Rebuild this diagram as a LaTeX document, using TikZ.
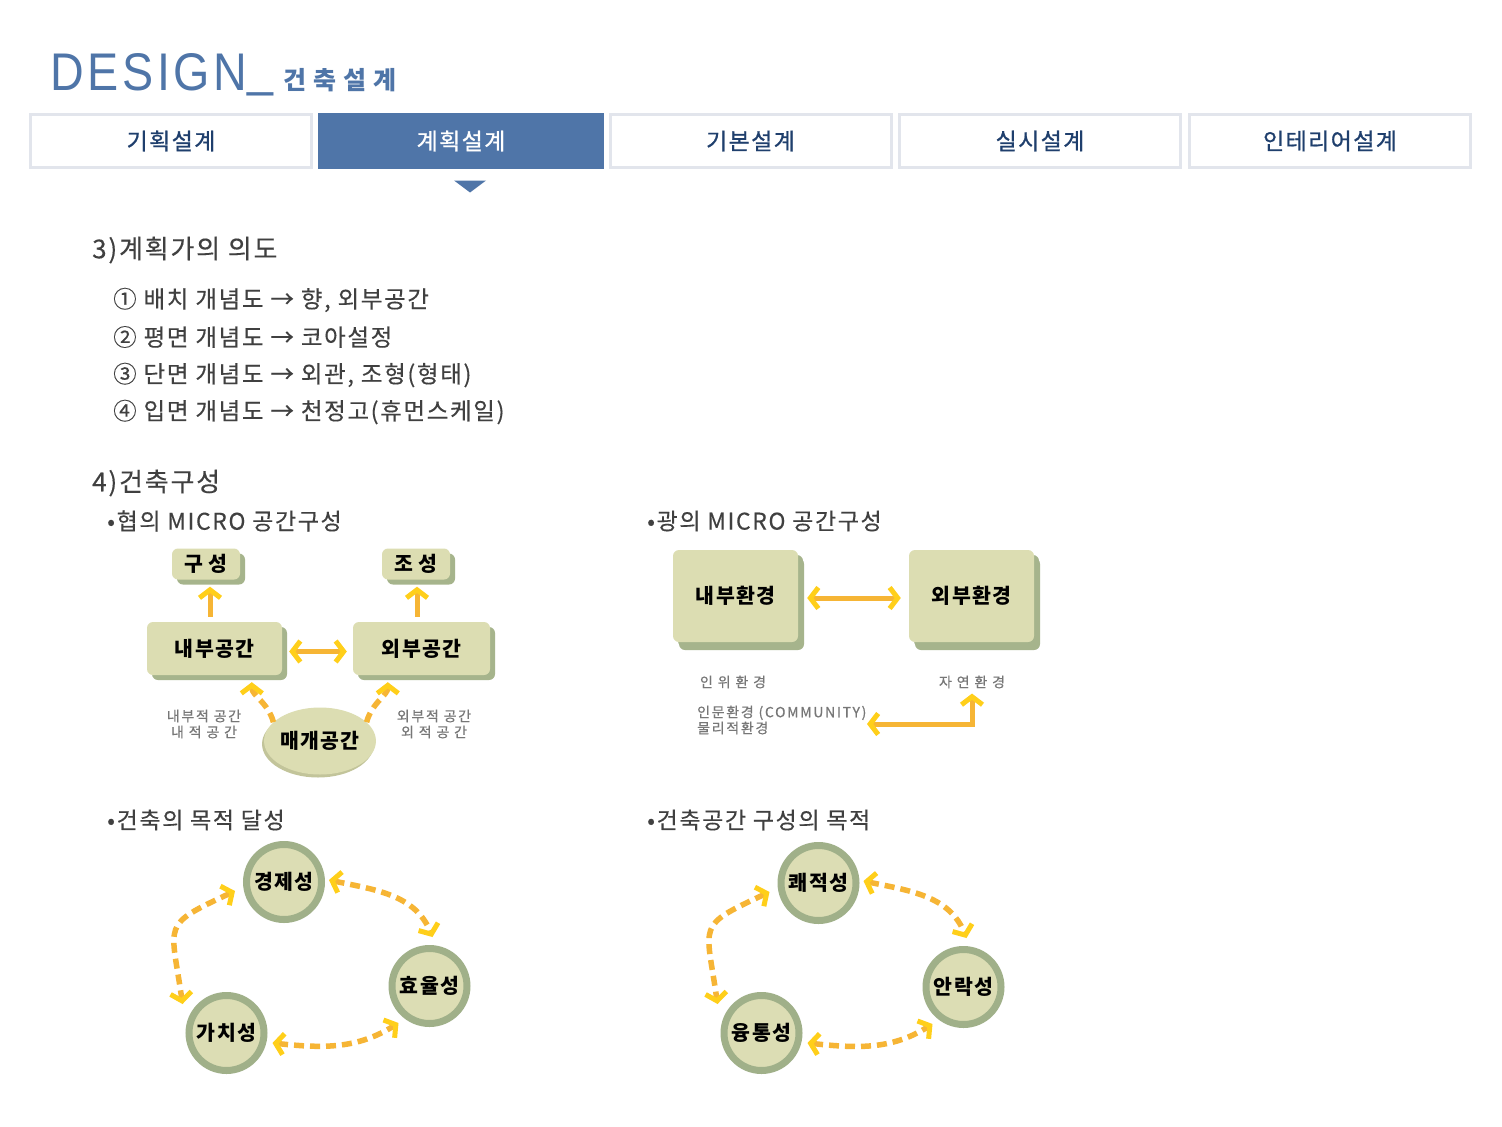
\documentclass[tikz,border=0pt]{standalone}
\usepackage{fontspec}
\setmainfont[LetterSpace=6]{Noto Sans CJK KR}
\newfontfamily\titlefont[LetterSpace=8]{Liberation Sans}
\newfontfamily\krspaced[LetterSpace=28]{Noto Sans CJK KR}
\newfontfamily\tabfont[LetterSpace=6,FakeBold=0.8]{Noto Sans CJK KR}
\newfontfamily\bodyfont[LetterSpace=7,FakeBold=0.3]{Noto Sans CJK KR}
\newfontfamily\labfont[LetterSpace=12,FakeBold=0.5]{Noto Sans CJK KR}
\usetikzlibrary{arrows.meta,shadows,shapes.geometric,calc}
\definecolor{navy}{HTML}{1F3F6D}
\definecolor{blueA}{HTML}{4F75A8}
\definecolor{tabline}{HTML}{E2E5EC}
\definecolor{txt}{HTML}{404040}
\definecolor{boxfill}{HTML}{DCDDB2}
\definecolor{boxshade}{HTML}{A6B48C}
\definecolor{ellshade}{HTML}{C2C49A}
\definecolor{ring}{HTML}{A0B089}
\definecolor{circfill}{HTML}{DCDDB4}
\definecolor{org}{HTML}{F6B535}
\definecolor{yel}{HTML}{FFCF1A}
\definecolor{lbl}{HTML}{777777}
\begin{document}
\begin{tikzpicture}[x=1pt,y=1pt,
  tab/.style={draw=tabline,line width=3pt,fill=white,minimum width=281pt,minimum height=53pt,
    font=\tabfont\fontsize{23}{26}\selectfont,text=navy,inner sep=0pt},
  head/.style={anchor=west,inner sep=0pt,font=\bodyfont\fontsize{26}{30}\selectfont,text=txt},
  item/.style={anchor=west,inner sep=0pt,font=\bodyfont\fontsize{23.5}{28}\selectfont,text=txt},
  sub/.style={anchor=west,inner sep=0pt,font=\bodyfont\fontsize{23}{28}\selectfont,text=txt},
  box/.style={rounded corners=6pt,fill=boxfill,draw=none,inner sep=0pt,
    font=\bfseries\fontsize{20.5}{24}\selectfont,text=black,
    drop shadow={shadow xshift=5pt,shadow yshift=-5pt,fill=boxshade,opacity=1}},
  bigbox/.style={box,minimum width=125pt,minimum height=92pt,
    drop shadow={shadow xshift=6pt,shadow yshift=-8pt,fill=boxshade,opacity=1}},
  lab/.style={font=\labfont\fontsize{14}{16}\selectfont,text=lbl,inner sep=0pt},
  circ/.style={circle,draw=ring,line width=7pt,fill=circfill,minimum size=75pt,inner sep=0pt,
    font=\bfseries\fontsize{20.5}{24}\selectfont,text=black},
  chev/.tip={Straight Barb[length=8pt,width=21pt,line width=5pt,color=yel]},
  sarr/.style={draw=org,line width=5pt,-chev},
  sarrb/.style={draw=org,line width=5pt,chev-chev},
  darr/.style={draw=org,line width=5.5pt,dash pattern=on 10pt off 6pt,-chev},
  darrb/.style={draw=org,line width=5.5pt,dash pattern=on 10pt off 6pt,chev-chev}
]
\fill[white] (0,0) rectangle (1502,-1127);
\useasboundingbox (0,0) rectangle (1502,-1127);

% title
\node[anchor=base west,inner sep=0pt,text=blueA] (title) at (50,-90)
  {\scalebox{0.88}[1]{\fontsize{53}{53}\titlefont DESIGN\raisebox{5pt}{\_}}};
\node[anchor=base west,inner sep=0pt,text=blueA,font=\bfseries\fontsize{25}{28}\krspaced] (subtitle) at (283,-89) {건축설계};

% tabs
\node[tab] (t1) at (171,-141) {기획설계};
\node[tab,fill=blueA,draw=none,minimum width=286pt,minimum height=56pt,text=white] (t2) at (461,-141) {계획설계};
\node[tab] (t3) at (750.5,-141) {기본설계};
\node[tab] (t4) at (1040,-141) {실시설계};
\node[tab] (t5) at (1330,-141) {인테리어설계};
\fill[blueA] ($(t2.south)+(-7,-10)$) -- ++(32,0) -- ++(-16,-12) -- cycle;

% section 3
\node[head] (h3) at (92,-250) {3)계획가의 의도};
\node[item] (i1) at (113,-300) {① 배치 개념도 → 향, 외부공간};
\node[item] (i2) at (113,-337) {② 평면 개념도 → 코아설정};
\node[item] (i3) at (113,-375) {③ 단면 개념도 → 외관, 조형(형태)};
\node[item] (i4) at (113,-412) {④ 입면 개념도 → 천정고(휴먼스케일)};

% section 4
\node[head] (h4) at (92,-483) {4)건축구성};
\node[sub] (s1) at (107,-521) {•협의 MICRO 공간구성};
\node[sub] (s2) at (647,-521) {•광의 MICRO 공간구성};
\node[sub] (s3) at (107,-820) {•건축의 목적 달성};
\node[sub] (s4) at (647,-820) {•건축공간 구성의 목적};

% narrow micro diagram
\node[box,minimum width=68pt,minimum height=31pt] (gs) at (206,-564) {구 성};
\node[box,minimum width=68pt,minimum height=31pt] (js) at (416,-564) {조 성};
\node[box,minimum width=135pt,minimum height=53pt] (nb) at (214.5,-648.5) {내부공간};
\node[box,minimum width=137pt,minimum height=53pt] (ob) at (421.5,-648.5) {외부공간};
\node[ellipse,fill=boxfill,minimum width=110pt,minimum height=67pt,inner sep=0pt,
  font=\bfseries\fontsize{20.5}{24}\selectfont,
  drop shadow={shadow xshift=-2pt,shadow yshift=-3pt,fill=ellshade,opacity=1}] (mg) at (320,-741) {매개공간};
\draw[sarr,shorten <=5pt,shorten >=7pt] ([xshift=4pt]gs.south |- nb.north) -- ([xshift=4pt]gs.south);
\draw[sarr,shorten <=5pt,shorten >=7pt] ([xshift=1pt]js.south |- ob.north) -- ([xshift=1pt]js.south);
\draw[sarrb,shorten <=7pt,shorten >=6pt] ([yshift=-3pt]nb.east) -- ([yshift=-3pt]ob.west);
\draw[darr,shorten >=7pt] (mg.158) to[out=105,in=-90] ($(nb.south west)+(105,0)$);
\draw[darr,shorten >=7pt] (mg.22) to[out=75,in=-90] ($(ob.south west)+(35,0)$);
\node[lab,align=center] (l1) at (204,-724) {내부적 공간\\내 적 공 간};
\node[lab,align=center] (l2) at (434,-724) {외부적 공간\\외 적 공 간};

% broad micro diagram
\node[bigbox] (nh) at (735.5,-596) {내부환경};
\node[bigbox] (oh) at (971.5,-596) {외부환경};
\draw[sarrb,shorten <=9pt,shorten >=8pt] ([yshift=-2pt]nh.east) -- ([yshift=-2pt]oh.west);
\node[lab] (iw) at (733,-682) {인 위 환 경};
\node[lab] (jy) at (972,-682) {자 연 환 경};
\node[lab,anchor=west,align=left] (hm) at (697,-720) {인문환경 (COMMUNITY)\\물리적환경};
\coordinate (ea) at (867,-724);
\draw[sarrb,shorten >=5pt] (ea) -- (ea -| jy.south) -- (jy.south);

% goals cycle (left)
\node[circ] (gj) at (284,-882) {경제성};
\node[circ] (hy) at (429.5,-986) {효율성};
\node[circ] (gc) at (226.5,-1033) {가치성};
\draw[darrb] ($(gj)+(45,2)$) to[out=-12,in=112] ($(hy)+(3,49)$);
\draw[darrb] ($(gc)+(46,-10)$) to[out=-6,in=212] ($(hy)+(-31,-37)$);
\draw[darrb,looseness=1.7] ($(gj)+(-49,-9)$) to[out=205,in=98] ($(gc)+(-44,29)$);

% goals cycle (right)
\node[circ] (kj) at (818.5,-883) {쾌적성};
\node[circ] (ar) at (963.5,-987) {안락성};
\node[circ] (yt) at (761.5,-1033) {융통성};
\draw[darrb] ($(kj)+(45,2)$) to[out=-12,in=112] ($(ar)+(3,49)$);
\draw[darrb] ($(yt)+(46,-10)$) to[out=-6,in=212] ($(ar)+(-31,-37)$);
\draw[darrb,looseness=1.7] ($(kj)+(-49,-9)$) to[out=205,in=98] ($(yt)+(-44,29)$);
\end{tikzpicture}
\end{document}
